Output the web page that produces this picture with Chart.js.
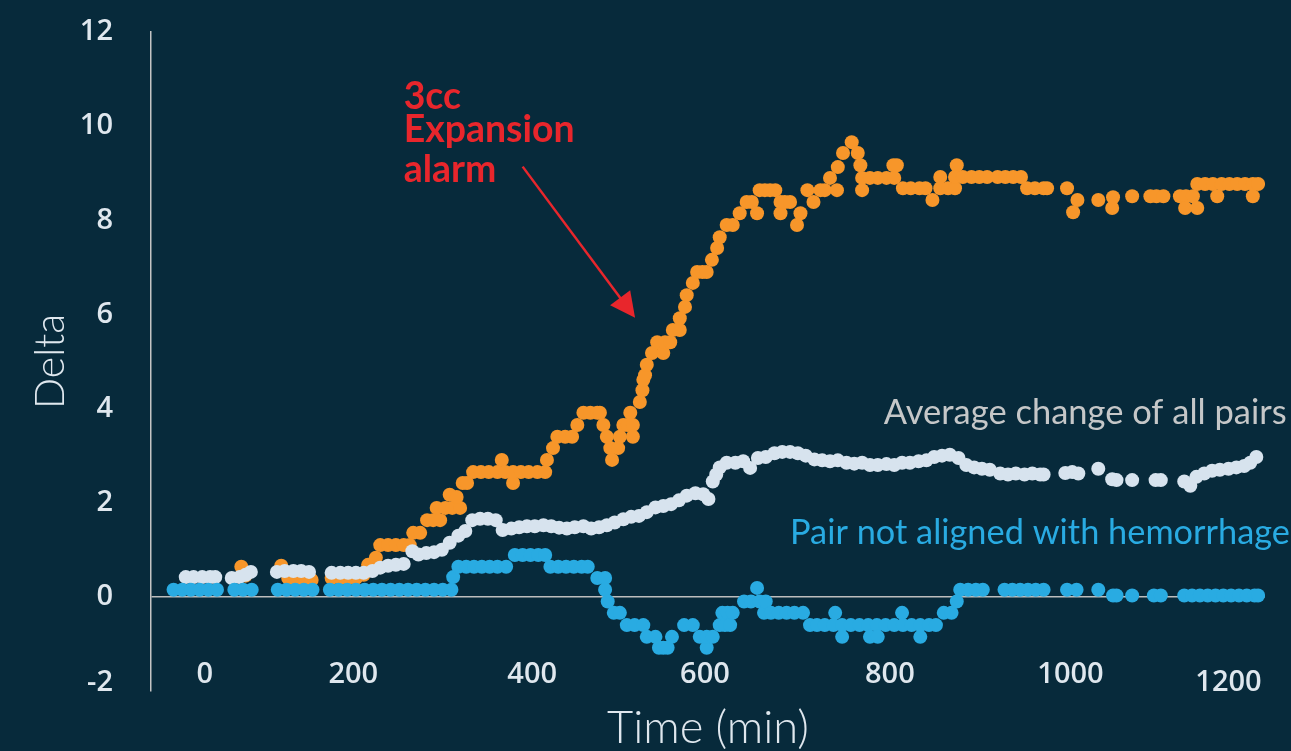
<!DOCTYPE html>
<html><head><meta charset="utf-8">
<script src="https://cdn.jsdelivr.net/npm/chart.js@4.4.1/dist/chart.umd.min.js"></script>
<style>html,body{margin:0;padding:0;background:#072a3b;overflow:hidden}#wrap{width:1291px;height:751px;position:relative}</style>
</head><body><div id="wrap"><canvas id="c"></canvas></div>
<script>
// ---- tick labels ----
const xTickValues = [0, 200, 400, 600, 800, 1000, 1200];
// where the reference prints each x label (in minutes on the plotted scale)
const xTickPlacement = [16, 187, 393, 592, 805, 1013, 1195];
const yTickValues = [-2, 0, 2, 4, 6, 8, 10, 12];

// ---- series: Pair not aligned with hemorrhage (blue) ----
const blueTime = [-20,-10,0,10,20,30, 50,60,70, 100,110,120,130,140,
  160,170,180,190,200,210,220,230,240,250,260,270,280,290, 300,302,
  308,317,326,335,344,353,363, 373,382,391,400,408, 414,423,432,441,450,457,
  468,477,477,480,487,494,502,511,521,525,535,539,544,549,554,568,578,586,594,594,601,609,612,615,618,621,624,
  637,645,652,655,660,662,668,677,686,695,705,
  713,721,730,740,742,750,750,760,770,780,782,790,791,800,810,819,820,830,840,840,850,858,
  867,876,882, 886,895,904,912, 937,946,955,964,973,982, 1009,1020,1045,
  1062,1066,1084,1109,1117, 1144,1153,1162,1171,1180,1189,1198,1207,1216,1225,1229];
const blueDelta = [0.15,0.15,0.15,0.15,0.15,0.15, 0.15,0.15,0.15, 0.15,0.15,0.15,0.15,0.15,
  0.15,0.15,0.15,0.15,0.15,0.15,0.15,0.15,0.15,0.15,0.15,0.15,0.15,0.15, 0.15,0.42,
  0.64,0.64,0.64,0.64,0.64,0.64,0.64, 0.89,0.89,0.89,0.89,0.89, 0.64,0.64,0.64,0.64,0.64,0.64,
  0.40,0.40,0.15,-0.10,-0.34,-0.34,-0.60,-0.60,-0.60,-0.85,-0.85,-1.08,-1.08,-1.08,-0.85,-0.60,-0.60,-0.85,-1.08,-0.85,-0.85,-0.60,-0.34,-0.60,-0.34,-0.60,-0.34,
  -0.10,-0.10,0.19,-0.10,-0.34,-0.10,-0.34,-0.34,-0.34,-0.34,-0.34,
  -0.60,-0.60,-0.60,-0.60,-0.34,-0.85,-0.60,-0.60,-0.60,-0.60,-0.85,-0.60,-0.85,-0.60,-0.60,-0.34,-0.60,-0.60,-0.85,-0.60,-0.60,-0.60,
  -0.34,-0.34,-0.10, 0.15,0.15,0.15,0.15, 0.15,0.15,0.15,0.15,0.15,0.15, 0.15,0.15,0.15,
  0.03,0.03,0.03,0.03,0.03, 0.03,0.03,0.03,0.03,0.03,0.03,0.03,0.03,0.03,0.03,0.03];

// ---- series: Average change of all pairs (light) ----
const lightTime = [-6,3,13,22,28, 47,56,63,69, 99,108,118,127,136,
  162,172,181,190,199,209,218,227,236,245,255,
  262,271,280,289,298,308,316,324,333,342,351,359,
  369,378,387,396,406,415,424,433,442,452,461,470,479,488,498,507,516,525,535,544,553,562,571,581,590,596,
  601,605,609,617,627,636,644,653,662,672,681,690,699,708,718,727,736,745,755,764,773,782,791,801,810,819,828,838,847,856,865,874,884,893,902,911,920,932,941,950,960,969,978,982,
  1007,1015,1022,1045,1061,1066,1084,1111,1117,1144,1151,1158,1167,1176,1185,1195,1204,1213,1220,1227];
const lightDelta = [0.42,0.42,0.42,0.42,0.42, 0.40,0.42,0.47,0.53, 0.53,0.55,0.55,0.55,0.53,
  0.51,0.51,0.51,0.51,0.51,0.55,0.62,0.66,0.68,0.70,0.97,
  0.90,0.93,0.95,1.00,1.15,1.30,1.40,1.63,1.66,1.66,1.63,1.42,
  1.45,1.48,1.50,1.50,1.52,1.50,1.47,1.45,1.48,1.50,1.45,1.48,1.52,1.58,1.65,1.70,1.72,1.80,1.90,1.93,1.97,2.05,2.15,2.20,2.18,2.08,
  2.45,2.60,2.75,2.85,2.85,2.88,2.74,2.95,2.97,3.05,3.08,3.08,3.05,3.00,2.92,2.90,2.88,2.90,2.85,2.83,2.85,2.80,2.80,2.82,2.80,2.85,2.85,2.88,2.90,2.97,3.00,3.02,2.95,2.80,2.75,2.72,2.70,2.62,2.60,2.62,2.60,2.62,2.60,2.60,
  2.63,2.65,2.62,2.72,2.50,2.48,2.48,2.48,2.48,2.45,2.36,2.55,2.62,2.68,2.70,2.72,2.75,2.78,2.85,2.97];

// ---- series: 3cc expansion pair (orange) ----
const orangeTime = [58,63, 104,112,121,130,139, 162,172,181,190,199,204,213,
  218,227,236,245,252, 256,264, 272,279,287, 283,293,301,310, 298,306, 313,318,
  325,334,343,353,358,362,371,371,380,389,399,408,
  410,417,422,431,439,445,452,460,468,471,475,479,483,485,492,494,498,503,506,509,509,
  517,520,521,523,525,531,537,544,546,552,555,563,563,569,571,578,583,589,594,
  600,606,609,617,624,632,640,646,652,655,661,667,673,679,679,684,690,698,702,710,717,725,730,736,744,745,751,761,768,771,773,773,
  782,791,801,809,810,813,820,829,839,846,854,863,863,872,880,882,880,
  889,899,908,917,929,938,947,956, 963,972,982,986, 1009,1016,1021,1045, 1061,1062,1084,
  1105,1112,1120,1139,1146,1145,1154,1159,1159,1168,1177,1182,1187,1196,1205,1214,1223,1223,1229];
const orangeDelta = [0.64,0.45, 0.66,0.40,0.36,0.36,0.36, 0.40,0.40,0.40,0.40,0.47,0.68,0.83,
  1.10,1.10,1.10,1.10,1.10, 1.36,1.36, 1.63,1.63,1.63, 1.89,1.89,1.89,1.89, 2.17,2.12, 2.42,2.42,
  2.65,2.65,2.65,2.65,2.91,2.65,2.42,2.65,2.65,2.65,2.65,2.65,
  2.91,3.16,3.40,3.40,3.40,3.65,3.91,3.91,3.91,3.91,3.65,3.40,3.16,2.91,3.16,3.40,3.65,3.65,3.91,3.65,3.40,
  4.14,4.39,4.61,4.71,4.93,5.18,5.41,5.18,5.41,5.41,5.67,5.67,5.92,6.16,6.41,6.67,6.90,6.90,6.90,
  7.16,7.41,7.64,7.90,7.90,8.15,8.39,8.39,8.15,8.64,8.64,8.64,8.64,8.15,8.39,8.39,8.39,7.90,8.15,8.64,8.39,8.64,8.64,8.90,8.64,9.13,9.43,9.66,9.43,9.17,8.90,8.64,
  8.90,8.90,8.90,9.17,8.90,9.17,8.68,8.68,8.68,8.68,8.43,8.92,8.68,8.68,8.68,9.17,8.92,
  8.92,8.92,8.92,8.92,8.92,8.92,8.92,8.92, 8.68,8.68,8.68,8.68, 8.68,8.17,8.43,8.43, 8.26,8.49,8.51,
  8.51,8.51,8.51,8.51,8.51,8.26,8.51,8.26,8.77,8.77,8.77,8.51,8.77,8.77,8.77,8.77,8.77,8.51,8.77];

[[blueTime,blueDelta,'blue'],[lightTime,lightDelta,'light'],[orangeTime,orangeDelta,'orange']].forEach(([a,b,n])=>{
  if (a.length !== b.length) console.warn(n+' length mismatch', a.length, b.length);
});

// ---- styles ----
const COLORS = { bg:'#072a3b', blue:'#29abe2', light:'#d7e3ee', orange:'#f7962a',
  red:'#e8262c', grey:'#c5c7c8', text:'#dfe7ee', axis:'#c4c4c4' };
const mctx = document.createElement('canvas').getContext('2d');
function fitSize(text, weight, family, width) {
  mctx.font = weight + ' 100px ' + family;
  return 100 * width / mctx.measureText(text).width;
}
const tickSize = 29;
const tickLH = tickSize * 1.2;
const tickFamily = '"Open Sans", "DejaVu Sans", sans-serif';
const yTitleSize = fitSize('Delta', '300', 'Lato', 95);
const xTitleSize = fitSize('Time (min)', '300', 'Lato', 202);
const redSize = fitSize('Expansion', '700', 'Lato', 171);
const greySize = fitSize('Average change of all pairs', '400', 'Lato', 403);
const blueSize = fitSize('Pair not aligned with hemorrhage', '400', 'Lato', 500);

// annotation anchors in data units (time, delta)
const notes = [
  { text:'3cc', t:245, v:10.62, color:COLORS.red, weight:700, size:redSize },
  { text:'Expansion', t:245, v:9.92, color:COLORS.red, weight:700, size:redSize },
  { text:'alarm', t:245, v:9.07, color:COLORS.red, weight:700, size:redSize },
  { text:'Average change of all pairs', t:798, v:3.91, color:COLORS.grey, weight:400, size:greySize },
  { text:'Pair not aligned with hemorrhage', t:690, v:1.36, color:COLORS.blue, weight:400, size:blueSize }
];
const arrow = { from:[382, 9.14], to:[511.5, 5.93] };

const bgPlugin = { id:'bg', beforeDraw(chart) {
  const c = chart.ctx; c.save(); c.fillStyle = COLORS.bg; c.fillRect(0, 0, chart.width, chart.height); c.restore();
}};
const notePlugin = { id:'notes', afterDraw(chart) {
  const { ctx } = chart; const x = chart.scales.x, y = chart.scales.y;
  ctx.save();
  ctx.textAlign = 'left'; ctx.textBaseline = 'middle';
  for (const n of notes) {
    ctx.font = n.weight + ' ' + n.size + 'px Lato';
    ctx.fillStyle = n.color;
    ctx.fillText(n.text, x.getPixelForValue(n.t), y.getPixelForValue(n.v));
  }
  const x1 = x.getPixelForValue(arrow.from[0]), y1 = y.getPixelForValue(arrow.from[1]);
  const x2 = x.getPixelForValue(arrow.to[0]), y2 = y.getPixelForValue(arrow.to[1]);
  const a = Math.atan2(y2 - y1, x2 - x1), L = 25, W = 12.5, ca = Math.cos(a), sa = Math.sin(a);
  ctx.strokeStyle = COLORS.red; ctx.fillStyle = COLORS.red; ctx.lineWidth = 2.5;
  ctx.beginPath(); ctx.moveTo(x1, y1); ctx.lineTo(x2 - ca * L * 0.8, y2 - sa * L * 0.8); ctx.stroke();
  const bx = x2 - ca * L, by = y2 - sa * L;
  ctx.beginPath(); ctx.moveTo(x2, y2);
  ctx.lineTo(bx - sa * W, by + ca * W); ctx.lineTo(bx + sa * W, by - ca * W);
  ctx.closePath(); ctx.fill();
  ctx.restore();
}};

const mk = (T, D) => T.map((t, i) => ({ x: t, y: D[i] }));
const pointStyle = { pointRadius: 7, pointHoverRadius: 7, pointBorderWidth: 0, borderWidth: 0, showLine: false };

new Chart(document.getElementById('c'), {
  type: 'scatter',
  data: { datasets: [
    Object.assign({ label: 'Pair not aligned with hemorrhage', data: mk(blueTime, blueDelta), backgroundColor: COLORS.blue, pointBackgroundColor: COLORS.blue }, pointStyle),
    Object.assign({ label: 'Average change of all pairs', data: mk(lightTime, lightDelta), backgroundColor: COLORS.light, pointBackgroundColor: COLORS.light }, pointStyle),
    Object.assign({ label: '3cc expansion pair', data: mk(orangeTime, orangeDelta), backgroundColor: COLORS.orange, pointBackgroundColor: COLORS.orange }, pointStyle)
  ]},
  options: {
    responsive: true, maintainAspectRatio: false, animation: false, events: [],
    layout: { padding: { left: 0, right: 26, top: 32, bottom: 0 } },
    plugins: { legend: { display: false }, tooltip: { enabled: false } },
    scales: {
      x: {
        type: 'linear', min: -46, max: 1237,
        afterBuildTicks(s) { s.ticks = xTickPlacement.map(v => ({ value: v })); },
        afterFit(s) { s.height = 60; s.paddingLeft = 0; s.paddingRight = 0; },
        grid: { display: false, drawTicks: false }, border: { display: false },
        ticks: {
          autoSkip: false, maxRotation: 0, color: COLORS.text,
          mirror: true, padding: -1,
          callback: (v, i) => String(xTickValues[i]),
          font: (c) => ({ family: tickFamily, weight: '600', size: tickSize,
            lineHeight: (c.index === xTickValues.length - 1) ? (tickLH - 16) / tickSize : 1.2 })
        },
        title: { display: true, text: 'Time (min)', color: COLORS.text,
          font: { family: 'Lato', weight: '300', size: xTitleSize, lineHeight: 1 },
          padding: { top: 0, bottom: 23 - xTitleSize / 2 } }
      },
      y: {
        min: -2, max: 12,
        afterBuildTicks(s) { s.ticks = yTickValues.map(v => ({ value: v })); },
        afterFit(s) { s.width = 151; s.paddingTop = 0; s.paddingBottom = 0; },
        grid: { drawTicks: true, tickLength: 38, tickColor: 'rgba(0,0,0,0)', lineWidth: 1.5,
          color: (c) => (c.tick && c.tick.value === 0) ? '#bdbdbd' : 'rgba(0,0,0,0)' },
        border: { display: true, color: COLORS.axis, width: 1.5 },
        ticks: {
          padding: 0, color: COLORS.text,
          callback: (v) => v === -2 ? ['-2', ''] : String(v),
          font: (c) => ({ family: tickFamily, weight: '600', size: tickSize,
            lineHeight: (c.tick && c.tick.value === -2) ? 16 / tickSize : 1.2 })
        },
        title: { display: true, text: 'Delta', color: COLORS.text,
          font: { family: 'Lato', weight: '300', size: yTitleSize, lineHeight: 1 },
          padding: { top: 51 - yTitleSize / 2, bottom: 0 } }
      }
    }
  },
  plugins: [bgPlugin, notePlugin]
});
</script></body></html>
